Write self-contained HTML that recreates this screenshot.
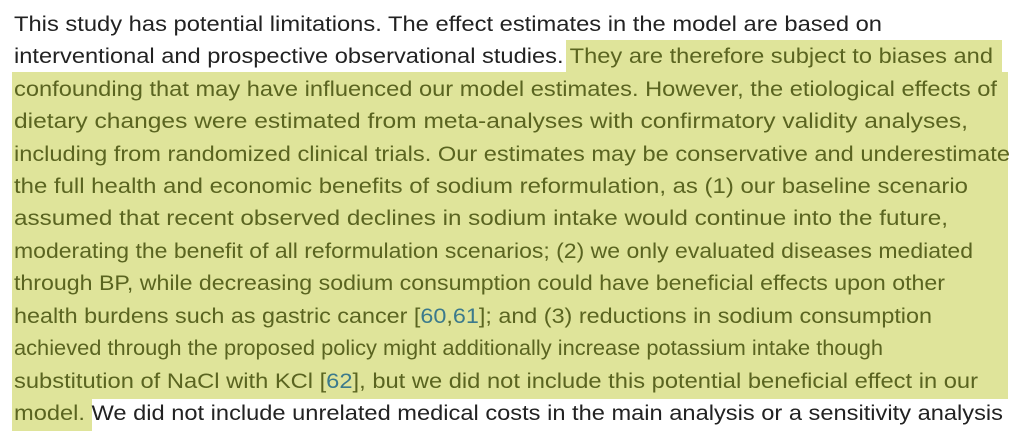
<!DOCTYPE html>
<html><head><meta charset="utf-8"><style>
html,body{margin:0;padding:0;background:#fff;width:1024px;height:432px;overflow:hidden}
svg text{font-family:"Liberation Sans",Arial,sans-serif;font-size:21px}
.p{fill:#222}
.h{fill:#5a6420}
.l{fill:#3b7a8c}
</style></head><body>
<svg width="1024" height="432" xmlns="http://www.w3.org/2000/svg">
<rect x="566" y="40" width="436" height="33" fill="#dfe49a"/>
<rect x="12" y="72" width="996" height="327" fill="#dfe49a"/>
<rect x="12" y="398" width="80" height="33" fill="#dfe49a"/>
<text x="14" y="31" textLength="868" lengthAdjust="spacingAndGlyphs" class="p">This study has potential limitations. The effect estimates in the model are based on</text>
<text x="14" y="63" textLength="979" lengthAdjust="spacingAndGlyphs"><tspan class="p">interventional and prospective observational studies. </tspan><tspan class="h">They are therefore subject to biases and</tspan></text>
<text x="14" y="96" textLength="983" lengthAdjust="spacingAndGlyphs" class="h">confounding that may have influenced our model estimates. However, the etiological effects of</text>
<text x="14" y="128" textLength="954" lengthAdjust="spacingAndGlyphs" class="h">dietary changes were estimated from meta-analyses with confirmatory validity analyses,</text>
<text x="14" y="161" textLength="996" lengthAdjust="spacingAndGlyphs" class="h">including from randomized clinical trials. Our estimates may be conservative and underestimate</text>
<text x="14" y="193" textLength="954" lengthAdjust="spacingAndGlyphs" class="h">the full health and economic benefits of sodium reformulation, as (1) our baseline scenario</text>
<text x="14" y="225" textLength="934" lengthAdjust="spacingAndGlyphs" class="h">assumed that recent observed declines in sodium intake would continue into the future,</text>
<text x="14" y="258" textLength="959" lengthAdjust="spacingAndGlyphs" class="h">moderating the benefit of all reformulation scenarios; (2) we only evaluated diseases mediated</text>
<text x="14" y="290" textLength="931" lengthAdjust="spacingAndGlyphs" class="h">through BP, while decreasing sodium consumption could have beneficial effects upon other</text>
<text x="14" y="323" textLength="918" lengthAdjust="spacingAndGlyphs" class="h">health burdens such as gastric cancer [<tspan class="l">60</tspan>,<tspan class="l">61</tspan>]; and (3) reductions in sodium consumption</text>
<text x="14" y="355" textLength="869" lengthAdjust="spacingAndGlyphs" class="h">achieved through the proposed policy might additionally increase potassium intake though</text>
<text x="14" y="388" textLength="964" lengthAdjust="spacingAndGlyphs" class="h">substitution of NaCl with KCl [<tspan class="l">62</tspan>], but we did not include this potential beneficial effect in our</text>
<text x="14" y="420" textLength="989" lengthAdjust="spacingAndGlyphs"><tspan class="h">model.</tspan><tspan class="p"> We did not include unrelated medical costs in the main analysis or a sensitivity analysis</tspan></text>
</svg>
</body></html>
